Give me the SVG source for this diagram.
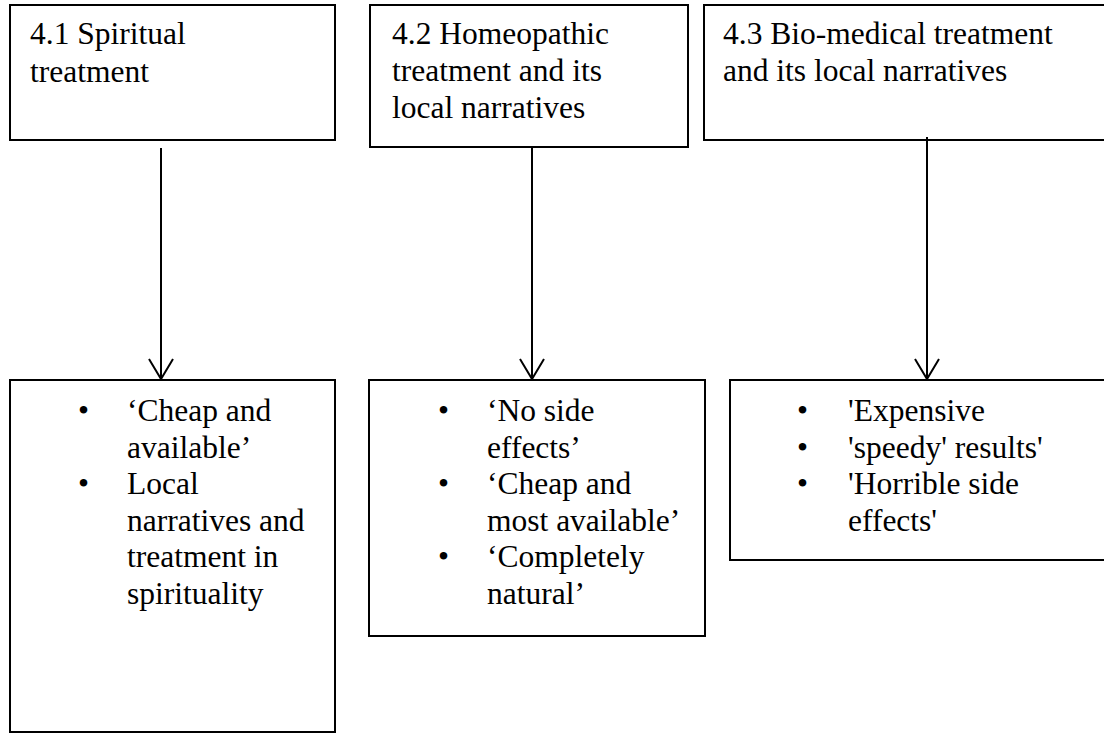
<svg xmlns="http://www.w3.org/2000/svg" width="1104" height="735" viewBox="0 0 1104 735">
<style>
.box{fill:#fff;stroke:#000;stroke-width:2}
.t{font-family:"Liberation Serif","Times New Roman",serif;font-size:31.5px;fill:#000}
.c{stroke:#000;stroke-width:2;fill:none}
</style>
<defs>
<marker id="arr" viewBox="-22 -14 24 28" refX="0" refY="0" markerWidth="24" markerHeight="28" markerUnits="userSpaceOnUse" orient="auto">
<path d="M-20,-12 L0,0 L-20,12" fill="none" stroke="#000" stroke-width="2"/>
</marker>
</defs>
<rect width="1104" height="735" fill="#fff"/>
<g id="n1">
<rect class="box" x="10" y="5" width="325" height="135"/>
<text class="t" x="30" y="44">4.1 Spiritual</text>
<text class="t" x="30" y="82">treatment</text>
</g>
<g id="n2">
<rect class="box" x="370" y="5" width="318" height="142"/>
<text class="t" x="392" y="44">4.2 Homeopathic</text>
<text class="t" x="392" y="81">treatment and its</text>
<text class="t" x="392" y="118">local narratives</text>
</g>
<g id="n3">
<rect class="box" x="704" y="5" width="410" height="135"/>
<text class="t" x="723" y="44">4.3 Bio-medical treatment</text>
<text class="t" x="723" y="81">and its local narratives</text>
</g>
<g id="n4">
<rect class="box" x="10" y="380" width="325" height="352"/>
<text class="t" x="78" y="421">•</text>
<text class="t" x="127" y="421">‘Cheap and</text>
<text class="t" x="127" y="457.5">available’</text>
<text class="t" x="78" y="494">•</text>
<text class="t" x="127" y="494">Local</text>
<text class="t" x="127" y="530.5">narratives and</text>
<text class="t" x="127" y="567">treatment in</text>
<text class="t" x="127" y="603.5">spirituality</text>
</g>
<g id="n5">
<rect class="box" x="369" y="380" width="336" height="256"/>
<text class="t" x="438" y="421">•</text>
<text class="t" x="487" y="421">‘No side</text>
<text class="t" x="487" y="457.5">effects’</text>
<text class="t" x="438" y="494">•</text>
<text class="t" x="487" y="494">‘Cheap and</text>
<text class="t" x="487" y="530.5">most available’</text>
<text class="t" x="438" y="567">•</text>
<text class="t" x="487" y="567">‘Completely</text>
<text class="t" x="487" y="603.5">natural’</text>
</g>
<g id="n6">
<rect class="box" x="730" y="380" width="384" height="180"/>
<text class="t" x="797" y="421">•</text>
<text class="t" x="848" y="421">'Expensive</text>
<text class="t" x="797" y="457.5">•</text>
<text class="t" x="848" y="457.5">'speedy' results'</text>
<text class="t" x="797" y="494">•</text>
<text class="t" x="848" y="494">'Horrible side</text>
<text class="t" x="848" y="530.5">effects'</text>
</g>
<g id="connectors">
<line class="c" x1="161" y1="148" x2="161" y2="379" marker-end="url(#arr)"/>
<line class="c" x1="532" y1="147" x2="532" y2="379" marker-end="url(#arr)"/>
<line class="c" x1="927" y1="137" x2="927" y2="379" marker-end="url(#arr)"/>
</g>
</svg>
